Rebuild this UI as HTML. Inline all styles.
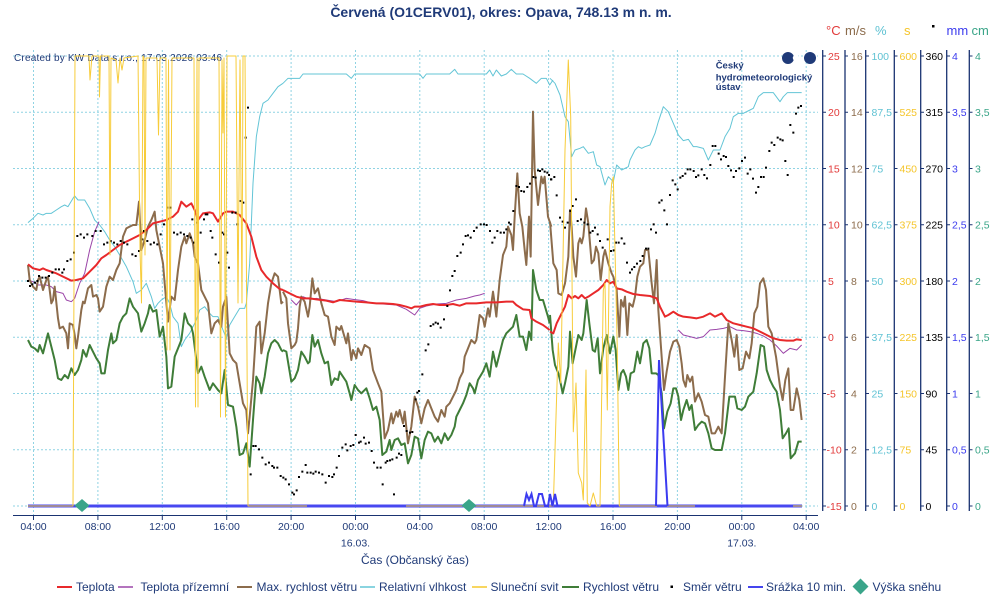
<!DOCTYPE html>
<html><head><meta charset="utf-8"><style>
html,body{margin:0;padding:0;background:#fff;}
svg{display:block;font-family:"Liberation Sans",Arial,sans-serif;}
</style></head><body>
<svg width="1000" height="600" viewBox="0 0 1000 600" xmlns="http://www.w3.org/2000/svg">
<rect width="1000" height="600" fill="#fff"/>
<text x="501" y="17" text-anchor="middle" font-size="14" font-weight="bold" fill="#1f3a78">Červená (O1CERV01), okres: Opava, 748.13 m n. m.</text>
<g stroke="#8fd3e3" stroke-width="1" stroke-dasharray="2,2" fill="none">
<line x1="13" y1="56" x2="818" y2="56"/><line x1="13" y1="112.25" x2="818" y2="112.25"/><line x1="13" y1="168.5" x2="818" y2="168.5"/><line x1="13" y1="224.75" x2="818" y2="224.75"/><line x1="13" y1="281" x2="818" y2="281"/><line x1="13" y1="337.25" x2="818" y2="337.25"/><line x1="13" y1="393.5" x2="818" y2="393.5"/><line x1="13" y1="449.75" x2="818" y2="449.75"/><line x1="13" y1="506" x2="818" y2="506"/>
<line x1="33.5" y1="50" x2="33.5" y2="515"/><line x1="97.9" y1="50" x2="97.9" y2="515"/><line x1="162.3" y1="50" x2="162.3" y2="515"/><line x1="226.7" y1="50" x2="226.7" y2="515"/><line x1="291.1" y1="50" x2="291.1" y2="515"/><line x1="355.5" y1="50" x2="355.5" y2="515"/><line x1="419.8" y1="50" x2="419.8" y2="515"/><line x1="484.2" y1="50" x2="484.2" y2="515"/><line x1="548.6" y1="50" x2="548.6" y2="515"/><line x1="613" y1="50" x2="613" y2="515"/><line x1="677.4" y1="50" x2="677.4" y2="515"/><line x1="741.8" y1="50" x2="741.8" y2="515"/><line x1="806.2" y1="50" x2="806.2" y2="515"/>
</g>
<text x="14" y="61" font-size="10" letter-spacing="0.2" fill="#1f3a78">Created by KW Data s.r.o., 17.03.2026 03:46</text>
<g fill="#1f3a78">
<circle cx="788" cy="58" r="6"/><circle cx="810" cy="58" r="6"/>
<circle cx="796" cy="58" r="3.2" fill="#fff"/>
<text x="715.7" y="68.5" font-size="9.5" font-weight="bold">Český</text>
<text x="715.7" y="80.5" font-size="9.5" font-weight="bold">hydrometeorologický</text>
<text x="715.7" y="90" font-size="9.5" font-weight="bold">ústav</text>
</g>

<line x1="28" y1="506" x2="802" y2="506" stroke="#4848f0" stroke-width="3"/>

<g transform="translate(13,50) scale(0.333333)" fill="none" stroke-linejoin="round">
<polyline vector-effect="non-scaling-stroke" stroke="#63c5d6" stroke-width="1" points="45,518 60,505 75,490 90,495 100,490 115,490 130,480 145,470 155,465 165,470 180,445 185,438 195,450 215,450 230,475 245,510 260,525 275,545 290,570 305,590 320,615 340,650 360,695 370,730 385,720 400,700 415,740 425,775 435,760 445,750 460,740 470,760 480,800 495,820 505,890 515,870 530,850 540,830 550,810 560,780 575,770 590,790 600,800 615,800 630,840 640,865 650,825 665,800 680,775 695,775 700,760 710,640 720,400 730,260 740,200 750,160 765,150 780,130 795,110 810,100"/>
<polyline vector-effect="non-scaling-stroke" stroke="#9b45a8" stroke-width="1" points="45,690 60,695 75,705 100,705 115,710 130,725 150,730 160,750 175,755 185,745 200,700 215,670 230,600 245,545 258,515"/>
<polyline vector-effect="non-scaling-stroke" stroke="#8c6c4c" stroke-width="2" points="45,645 50,690 60,710 70,720 75,690 80,680 90,720 100,690 105,680 110,720 115,760 120,750 125,710 135,805 140,835 150,830 160,850 165,895 170,820 180,825 185,855 190,895 195,860 205,780 210,755 215,760 225,715 235,705 240,740 250,735 255,745 260,785 270,770 280,710 290,680 300,690 310,660 320,640 330,560 340,535 350,530 360,525 370,525 378,455 385,600 395,570 405,530 415,510 425,485 430,540 440,590 450,640 455,700 465,815 475,740 485,750 495,660 505,590 515,560 520,580 530,550 540,580 545,620 555,640 565,720 575,740 585,760 595,850 605,820 615,810 625,830 630,770 640,740 650,910 660,930 670,940 680,1000 690,1060 700,1080 705,1150 710,1100 720,990 730,830 740,815 745,910 755,850 765,760 775,700 785,670 795,680 805,760 810,755"/>
<polyline vector-effect="non-scaling-stroke" stroke="#3f7d38" stroke-width="2" points="45,870 55,890 65,895 75,905 80,885 90,910 100,870 105,850 115,890 125,930 135,985 145,990 155,975 165,985 175,955 185,975 195,960 205,930 210,900 220,920 230,885 240,905 250,925 260,940 265,970 275,970 285,900 295,850 300,880 310,870 320,820 330,800 340,790 350,745 360,770 375,790 385,845 395,820 405,790 410,765 420,785 430,780 440,860 450,830 460,920 465,1015 475,1010 485,920 495,895 505,870 515,790 525,820 535,830 540,850 550,930 555,970 565,950 575,980 590,1020 600,1000 615,1020 625,1030 635,960 645,1065 660,1070 670,1130 680,1215 690,1210 700,1180 710,1250 720,1110 730,980 740,1000 745,1030 755,980 765,910 775,880 785,870 795,880 805,900 810,905"/>
<polyline vector-effect="non-scaling-stroke" stroke="#e8292b" stroke-width="2" points="45,643 60,655 80,660 90,655 100,660 130,670 150,680 175,692 190,690 210,685 230,665 250,645 265,625 280,615 300,600 320,585 340,575 360,565 380,555 400,540 420,520 440,515 460,510 480,500 495,485 505,455 520,470 535,460 545,480 555,510 570,490 590,487 600,490 615,515 630,490 640,485 660,485 680,495 700,520 715,560 730,620 745,660 760,680 780,700 800,717 810,720"/>
<path fill="#000" d="M42 690h6v6h-6zM48 705h6v6h-6zM55 700h6v6h-6zM63 695h6v6h-6zM70 690h6v6h-6zM75 675h6v6h-6zM85 680h6v6h-6zM95 680h6v6h-6zM105 675h6v6h-6zM115 665h6v6h-6zM125 655h6v6h-6zM135 655h6v6h-6zM145 665h6v6h-6zM150 655h6v6h-6zM160 630h6v6h-6zM170 625h6v6h-6zM180 605h6v6h-6zM190 555h6v6h-6zM200 550h6v6h-6zM210 560h6v6h-6zM220 550h6v6h-6zM235 555h6v6h-6zM245 540h6v6h-6zM260 540h6v6h-6zM270 580h6v6h-6zM280 575h6v6h-6zM290 570h6v6h-6zM300 575h6v6h-6zM310 580h6v6h-6zM320 570h6v6h-6zM330 575h6v6h-6zM340 580h6v6h-6zM355 610h6v6h-6zM365 615h6v6h-6zM375 600h6v6h-6zM385 565h6v6h-6zM390 540h6v6h-6zM400 570h6v6h-6zM410 580h6v6h-6zM420 575h6v6h-6zM430 580h6v6h-6zM440 550h6v6h-6zM450 520h6v6h-6zM460 470h6v6h-6zM470 470h6v6h-6zM480 545h6v6h-6zM490 550h6v6h-6zM500 545h6v6h-6zM510 550h6v6h-6zM520 555h6v6h-6zM530 560h6v6h-6zM535 505h6v6h-6zM540 575h6v6h-6zM550 515h6v6h-6zM560 545h6v6h-6zM570 505h6v6h-6zM575 490h6v6h-6zM580 490h6v6h-6zM590 540h6v6h-6zM595 560h6v6h-6zM605 610h6v6h-6zM615 635h6v6h-6zM625 545h6v6h-6zM630 550h6v6h-6zM640 605h6v6h-6zM645 650h6v6h-6zM655 485h6v6h-6zM665 485h6v6h-6zM670 520h6v6h-6zM680 450h6v6h-6zM688 455h6v6h-6zM695 260h6v6h-6zM702 170h6v6h-6zM710 1270h6v6h-6zM718 1185h6v6h-6zM725 1185h6v6h-6zM735 1195h6v6h-6zM745 1220h6v6h-6zM755 1240h6v6h-6zM765 1235h6v6h-6zM775 1245h6v6h-6zM780 1250h6v6h-6zM790 1250h6v6h-6zM800 1275h6v6h-6zM808 1280h6v6h-6z"/>
</g>

<g transform="translate(283,50) scale(0.333333)" fill="none" stroke-linejoin="round">
<polyline vector-effect="non-scaling-stroke" stroke="#63c5d6" stroke-width="1" points="0,100 15,85 50,85 60,72 190,72 205,85 215,72 410,72 420,85 430,72 500,72 515,58 525,72 610,72 620,60 630,78 640,60 655,78 670,72 685,58 700,72 720,72 740,85 760,100 775,85 790,85 800,105 810,90"/>
<polyline vector-effect="non-scaling-stroke" stroke="#9b45a8" stroke-width="1" points="25,750 40,765 60,740 80,748 100,745 130,750 160,755 190,745 210,748 240,752 270,760 300,762 340,765 370,778 395,795 410,775 430,768 460,762 490,760 520,750 550,745 575,738 590,735 605,730"/>
<polyline vector-effect="non-scaling-stroke" stroke="#8c6c4c" stroke-width="2" points="0,725 10,745 15,820 25,895 35,885 40,875 45,835 50,770 55,740 65,755 75,800 80,770 88,685 95,730 105,715 115,760 125,795 135,800 145,860 155,885 160,830 170,840 175,828 180,845 190,880 195,850 205,930 210,900 220,925 225,895 235,915 245,885 260,895 270,960 285,1000 295,1025 305,1165 315,1140 325,1090 330,1120 340,1085 345,1100 350,1080 360,1120 365,1085 375,1180 385,1130 395,1040 405,1070 415,1120 425,1075 435,1050 445,1075 455,1100 465,1115 475,1080 485,1100 490,1070 500,1060 510,1040 520,1020 530,985 540,965 545,920 555,895 565,870 575,880 580,870 590,795 600,805 605,830 615,775 620,800 630,725 635,760 640,800 650,690 660,615 670,590 675,530 685,555 690,600 695,500 703,370 710,490 718,530 725,600 730,645 738,500 743,620 750,185 755,360 765,465 775,380 780,400 785,380 795,500 805,530"/>
<polyline vector-effect="non-scaling-stroke" stroke="#3f7d38" stroke-width="2" points="0,900 10,905 20,965 25,995 35,985 45,960 55,905 65,920 75,940 80,935 88,855 95,890 105,870 115,910 125,940 135,935 145,1005 155,985 165,990 170,965 180,980 190,995 200,1030 205,1050 215,1005 225,1020 235,1030 250,1015 260,1045 270,1080 280,1070 290,1110 298,1215 310,1205 320,1170 325,1200 335,1170 345,1165 355,1185 365,1180 375,1240 385,1215 395,1160 405,1165 415,1225 425,1170 435,1145 445,1150 455,1175 465,1160 475,1180 485,1150 495,1170 505,1155 515,1130 520,1100 530,1080 540,1060 550,1035 560,1000 570,1015 575,1030 585,990 600,965 610,940 620,980 630,905 640,950 650,910 660,870 670,850 680,840 690,830 700,795 710,860 720,860 730,900 738,845 745,870 750,660 760,720 770,750 780,750 795,800 800,820"/>
<polyline vector-effect="non-scaling-stroke" stroke="#e8292b" stroke-width="2" points="0,720 20,730 40,740 60,745 80,745 100,748 130,752 150,757 170,750 190,752 220,755 250,757 280,760 300,760 330,762 350,765 370,770 385,775 395,770 410,770 430,765 450,762 470,765 490,765 510,762 530,767 550,760 580,760 610,757 640,757 670,755 690,755 700,765 720,778 740,780 745,805 760,815 780,825 800,840"/>
<path fill="#000" d="M5 1285h6v6h-6zM15 1300h6v6h-6zM25 1325h6v6h-6zM30 1330h6v6h-6zM38 1318h6v6h-6zM45 1278h6v6h-6zM55 1262h6v6h-6zM65 1242h6v6h-6zM70 1265h6v6h-6zM80 1265h6v6h-6zM88 1268h6v6h-6zM95 1262h6v6h-6zM105 1265h6v6h-6zM115 1270h6v6h-6zM125 1295h6v6h-6zM135 1275h6v6h-6zM145 1278h6v6h-6zM150 1270h6v6h-6zM158 1250h6v6h-6zM165 1215h6v6h-6zM175 1190h6v6h-6zM185 1180h6v6h-6zM190 1198h6v6h-6zM200 1185h6v6h-6zM208 1182h6v6h-6zM215 1152h6v6h-6zM225 1175h6v6h-6zM230 1172h6v6h-6zM240 1160h6v6h-6zM245 1178h6v6h-6zM255 1175h6v6h-6zM263 1200h6v6h-6zM270 1235h6v6h-6zM280 1250h6v6h-6zM290 1250h6v6h-6zM296 1300h6v6h-6zM305 1235h6v6h-6zM310 1230h6v6h-6zM318 1228h6v6h-6zM325 1225h6v6h-6zM330 1330h6v6h-6zM338 1220h6v6h-6zM345 1208h6v6h-6zM352 1212h6v6h-6zM360 1125h6v6h-6zM368 1140h6v6h-6zM378 1145h6v6h-6zM385 1143h6v6h-6zM395 1045h6v6h-6zM400 1025h6v6h-6zM405 1020h6v6h-6zM415 970h6v6h-6zM425 898h6v6h-6zM433 880h6v6h-6zM440 825h6v6h-6zM448 820h6v6h-6zM455 815h6v6h-6zM462 818h6v6h-6zM470 830h6v6h-6zM480 805h6v6h-6zM490 765h6v6h-6zM498 718h6v6h-6zM505 675h6v6h-6zM512 660h6v6h-6zM520 615h6v6h-6zM530 605h6v6h-6zM537 580h6v6h-6zM545 555h6v6h-6zM552 553h6v6h-6zM560 560h6v6h-6zM570 540h6v6h-6zM578 530h6v6h-6zM590 520h6v6h-6zM600 520h6v6h-6zM608 522h6v6h-6zM618 540h6v6h-6zM625 575h6v6h-6zM632 560h6v6h-6zM640 540h6v6h-6zM650 545h6v6h-6zM660 545h6v6h-6zM667 535h6v6h-6zM675 515h6v6h-6zM680 520h6v6h-6zM688 480h6v6h-6zM697 405h6v6h-6zM705 408h6v6h-6zM712 420h6v6h-6zM720 422h6v6h-6zM730 408h6v6h-6zM738 398h6v6h-6zM748 378h6v6h-6zM755 380h6v6h-6zM762 358h6v6h-6zM768 360h6v6h-6zM775 355h6v6h-6zM782 362h6v6h-6zM790 365h6v6h-6zM795 372h6v6h-6zM802 385h6v6h-6z"/>
</g>

<g transform="translate(550,50) scale(0.333333)" fill="none" stroke-linejoin="round">
<polyline vector-effect="non-scaling-stroke" stroke="#63c5d6" stroke-width="1" points="0,85 15,100 30,135 45,200 55,215 65,320 75,300 90,295 100,290 115,310 130,305 140,345 150,350 165,405 175,380 190,395 200,345 215,360 235,350 240,330 255,300 265,290 275,295 285,290 300,285 315,250 325,215 340,170 355,185 370,220 385,255 400,272 415,268 430,290 440,290 460,295 475,330 490,300 510,300 525,260 540,235 550,200 565,190 580,190 600,180 610,175 625,140 640,128 670,128 690,155 700,140 712,128 755,128"/>
<polyline vector-effect="non-scaling-stroke" stroke="#9b45a8" stroke-width="1" points="385,840 400,855 420,860 440,865 460,860 480,840 500,838 520,835 540,830 560,840 580,842 600,845 620,850 640,858 660,870 680,888 700,910 720,895 740,900 755,885"/>
<polyline vector-effect="non-scaling-stroke" stroke="#8c6c4c" stroke-width="2" points="0,515 10,640 20,660 25,730 35,735 45,700 55,620 60,480 65,530 70,620 78,680 85,580 90,565 95,580 100,560 108,475 115,520 125,640 132,630 138,590 145,610 152,690 160,620 165,600 175,640 185,670 190,680 200,720 208,860 213,750 220,770 225,740 232,855 238,760 248,770 255,740 262,680 270,650 280,640 285,600 295,600 305,700 312,760 320,630 325,780 335,920 342,1020 350,965 360,905 370,875 380,870 388,890 395,940 400,990 407,1010 412,975 420,995 427,980 435,1055 445,1030 455,1055 465,1095 475,1100 485,1150 495,1150 505,1130 515,1150 525,980 535,820 545,870 553,920 560,855 568,960 578,955 588,905 598,925 605,880 613,790 622,770 630,700 640,685 648,720 655,830 665,850 678,920 690,1010 698,1050 706,990 715,955 722,1080 730,1080 740,1015 748,1050 755,1110"/>
<polyline vector-effect="non-scaling-stroke" stroke="#3f7d38" stroke-width="2" points="0,795 8,900 15,945 25,970 30,990 38,1030 45,1000 55,950 60,845 68,940 78,890 85,855 95,870 100,850 110,750 118,820 128,900 135,905 143,865 150,970 160,895 170,855 180,910 190,860 197,900 205,1020 213,970 220,960 228,980 235,1020 242,970 252,965 262,905 270,940 280,880 290,870 298,895 305,970 318,970 325,975 335,1030 342,1135 352,1085 362,1060 370,1015 378,1015 385,1040 393,1110 400,1080 410,1050 418,1080 425,1065 435,1140 445,1125 455,1115 465,1120 475,1150 485,1195 495,1200 515,1200 525,1150 538,1040 555,1040 562,1075 575,1080 585,1070 595,1040 610,1025 620,970 632,885 642,890 650,960 660,990 670,1010 680,1025 690,1080 698,1165 708,1150 716,1135 722,1225 735,1210 745,1175 755,1175"/>
<polyline vector-effect="non-scaling-stroke" stroke="#e8292b" stroke-width="2" points="0,845 10,850 20,820 35,790 45,770 55,735 65,745 75,738 85,745 95,735 105,745 115,740 130,730 145,720 160,705 170,690 180,700 190,695 200,715 215,718 230,725 250,732 270,735 300,738 320,745 330,770 345,800 355,795 370,785 385,795 400,800 420,802 440,805 460,800 480,790 495,800 515,790 530,810 550,820 570,825 590,830 610,835 630,845 650,855 670,865 690,870 710,872 730,872 740,868 755,870"/>
<path fill="#000" d="M0 385h6v6h-6zM10 378h6v6h-6zM17 433h6v6h-6zM27 500h6v6h-6zM35 512h6v6h-6zM42 530h6v6h-6zM50 515h6v6h-6zM58 480h6v6h-6zM65 465h6v6h-6zM75 445h6v6h-6zM80 510h6v6h-6zM90 505h6v6h-6zM100 515h6v6h-6zM110 520h6v6h-6zM118 545h6v6h-6zM125 540h6v6h-6zM132 530h6v6h-6zM140 550h6v6h-6zM147 570h6v6h-6zM155 590h6v6h-6zM170 565h6v6h-6zM180 600h6v6h-6zM188 598h6v6h-6zM195 575h6v6h-6zM203 575h6v6h-6zM212 562h6v6h-6zM220 578h6v6h-6zM228 635h6v6h-6zM237 665h6v6h-6zM243 655h6v6h-6zM250 648h6v6h-6zM258 638h6v6h-6zM268 630h6v6h-6zM275 615h6v6h-6zM285 593h6v6h-6zM292 593h6v6h-6zM300 535h6v6h-6zM308 520h6v6h-6zM315 545h6v6h-6zM325 455h6v6h-6zM332 448h6v6h-6zM340 478h6v6h-6zM348 520h6v6h-6zM357 432h6v6h-6zM365 388h6v6h-6zM373 400h6v6h-6zM380 415h6v6h-6zM388 380h6v6h-6zM395 375h6v6h-6zM403 368h6v6h-6zM410 355h6v6h-6zM418 355h6v6h-6zM428 360h6v6h-6zM435 378h6v6h-6zM442 373h6v6h-6zM452 355h6v6h-6zM460 372h6v6h-6zM468 382h6v6h-6zM478 342h6v6h-6zM485 285h6v6h-6zM493 285h6v6h-6zM503 308h6v6h-6zM510 325h6v6h-6zM518 315h6v6h-6zM525 318h6v6h-6zM532 345h6v6h-6zM540 358h6v6h-6zM548 378h6v6h-6zM555 360h6v6h-6zM565 352h6v6h-6zM573 330h6v6h-6zM582 320h6v6h-6zM590 368h6v6h-6zM598 355h6v6h-6zM606 383h6v6h-6zM615 425h6v6h-6zM622 408h6v6h-6zM630 378h6v6h-6zM638 378h6v6h-6zM645 350h6v6h-6zM655 300h6v6h-6zM662 275h6v6h-6zM670 282h6v6h-6zM680 260h6v6h-6zM688 265h6v6h-6zM695 268h6v6h-6zM703 330h6v6h-6zM710 372h6v6h-6zM718 222h6v6h-6zM727 245h6v6h-6zM735 188h6v6h-6zM742 170h6v6h-6zM750 165h6v6h-6z"/>
</g>

<g fill="none" stroke="#f7cc3a" stroke-width="1" stroke-linejoin="round">
<polyline points="28,506 73,506 75,56 89,56 90,80 92,56 99,56 99.5,97 100.5,56 109,56 110,255 111,58 116,60 118,83 120,58 122,70 124,58 138,56 140,250 141.5,303 143,56 144,58 145,255 146,58 157,58 158.5,135 160,58 166,58 167,350 168.5,60 170,350 172,58 194,58 195.5,407 197,58 198,407 199,58 219,58 220.5,417 222,60 223,133 224,58 225.5,417 227,56 236,56 238,303 240,60 242,303 243,56 245,56 248,506 307,506"/>
<polyline points="406,506 553.3,506 556,416.7 558.3,343 560.7,383 565,150 568.3,60 570.7,116.7 573.3,431.7 576,383 578.3,473 581.7,483 583.3,500 586,370 587.3,503 590,506 593.3,493 596.7,506 600,506 603.3,290 605,283 607.3,410 610,206.7 611.7,183 613.3,176.7 615,250 617.3,350 619.3,506 657,506"/>
<polyline points="667,506 695,506"/>
<polyline points="793,506 802,506"/>
</g>
<g fill="none" stroke="#3b3bf0" stroke-linejoin="miter">
<polyline stroke-width="2" points="524,506 526.5,494 529,500 531.5,494 534,506 536,506 539,494 542,494 545,506 548,506 550,494 552.5,506 555,494 557.5,506"/>
<polyline stroke-width="2" points="656,506 659,360 667.5,506"/>
</g>
<g fill="#3aa58a">
<polygon points="82,499 89.5,505.5 82,512 74.5,505.5"/>
<polygon points="469,499 476.5,505.5 469,512 461.5,505.5"/>
</g>

<g stroke="#1a3371" stroke-width="1">
<line x1="13" y1="515.5" x2="818" y2="515.5"/>
<line x1="33.5" y1="515" x2="33.5" y2="520"/><line x1="97.9" y1="515" x2="97.9" y2="520"/><line x1="162.3" y1="515" x2="162.3" y2="520"/><line x1="226.7" y1="515" x2="226.7" y2="520"/><line x1="291.1" y1="515" x2="291.1" y2="520"/><line x1="355.5" y1="515" x2="355.5" y2="520"/><line x1="419.8" y1="515" x2="419.8" y2="520"/><line x1="484.2" y1="515" x2="484.2" y2="520"/><line x1="548.6" y1="515" x2="548.6" y2="520"/><line x1="613" y1="515" x2="613" y2="520"/><line x1="677.4" y1="515" x2="677.4" y2="520"/><line x1="741.8" y1="515" x2="741.8" y2="520"/><line x1="806.2" y1="515" x2="806.2" y2="520"/>
</g>
<g font-size="10.5" fill="#1f3a78" text-anchor="middle">
<text x="33.5" y="530">04:00</text><text x="97.9" y="530">08:00</text><text x="162.3" y="530">12:00</text><text x="226.7" y="530">16:00</text><text x="291.1" y="530">20:00</text><text x="355.5" y="530">00:00</text><text x="419.8" y="530">04:00</text><text x="484.2" y="530">08:00</text><text x="548.6" y="530">12:00</text><text x="613" y="530">16:00</text><text x="677.4" y="530">20:00</text><text x="741.8" y="530">00:00</text><text x="806.2" y="530">04:00</text>
<text x="355.5" y="546.5">16.03.</text><text x="741.8" y="546.5">17.03.</text>
<text x="415" y="564" font-size="12">Čas (Občanský čas)</text>
</g>

<g stroke="#1a3371" stroke-width="1.3">
<line x1="822.7" y1="50" x2="822.7" y2="511"/><line x1="845" y1="50" x2="845" y2="511"/><line x1="865.7" y1="50" x2="865.7" y2="511"/><line x1="894.3" y1="50" x2="894.3" y2="511"/><line x1="920.7" y1="50" x2="920.7" y2="511"/><line x1="946.7" y1="50" x2="946.7" y2="511"/><line x1="969.3" y1="50" x2="969.3" y2="511"/>
</g>
<g stroke="#1a3371" stroke-width="1">
<path d="M823 56h3M823 112.25h3M823 168.5h3M823 224.75h3M823 281h3M823 337.25h3M823 393.5h3M823 449.75h3M823 506h3"/>
<path d="M845 56h3M845 112.25h3M845 168.5h3M845 224.75h3M845 281h3M845 337.25h3M845 393.5h3M845 449.75h3M845 506h3"/>
<path d="M866 56h3M866 112.25h3M866 168.5h3M866 224.75h3M866 281h3M866 337.25h3M866 393.5h3M866 449.75h3M866 506h3"/>
<path d="M894.5 56h3M894.5 112.25h3M894.5 168.5h3M894.5 224.75h3M894.5 281h3M894.5 337.25h3M894.5 393.5h3M894.5 449.75h3M894.5 506h3"/>
<path d="M921 56h3M921 112.25h3M921 168.5h3M921 224.75h3M921 281h3M921 337.25h3M921 393.5h3M921 449.75h3M921 506h3"/>
<path d="M947 56h3M947 112.25h3M947 168.5h3M947 224.75h3M947 281h3M947 337.25h3M947 393.5h3M947 449.75h3M947 506h3"/>
<path d="M969.5 56h3M969.5 112.25h3M969.5 168.5h3M969.5 224.75h3M969.5 281h3M969.5 337.25h3M969.5 393.5h3M969.5 449.75h3M969.5 506h3"/>
</g>
<g font-size="10.5">
<g fill="#e23a3a"><text x="828" y="60">25</text><text x="828" y="116">20</text><text x="828" y="172.3">15</text><text x="828" y="228.5">10</text><text x="828" y="284.8">5</text><text x="828" y="341">0</text><text x="826.5" y="397.3">-5</text><text x="826.5" y="453.5">-10</text><text x="826.5" y="509.8">-15</text></g>
<g fill="#8c6c4c"><text x="851" y="60">16</text><text x="851" y="116">14</text><text x="851" y="172.3">12</text><text x="851" y="228.5">10</text><text x="851" y="284.8">8</text><text x="851" y="341">6</text><text x="851" y="397.3">4</text><text x="851" y="453.5">2</text><text x="851" y="509.8">0</text></g>
<g fill="#5fc2d3"><text x="871.5" y="60">100</text><text x="871.5" y="116">87,5</text><text x="871.5" y="172.3">75</text><text x="871.5" y="228.5">62,5</text><text x="871.5" y="284.8">50</text><text x="871.5" y="341">37,5</text><text x="871.5" y="397.3">25</text><text x="871.5" y="453.5">12,5</text><text x="871.5" y="509.8">0</text></g>
<g fill="#f5c52a"><text x="899.5" y="60">600</text><text x="899.5" y="116">525</text><text x="899.5" y="172.3">450</text><text x="899.5" y="228.5">375</text><text x="899.5" y="284.8">300</text><text x="899.5" y="341">225</text><text x="899.5" y="397.3">150</text><text x="899.5" y="453.5">75</text><text x="899.5" y="509.8">0</text></g>
<g fill="#000"><text x="925.5" y="60">360</text><text x="925.5" y="116">315</text><text x="925.5" y="172.3">270</text><text x="925.5" y="228.5">225</text><text x="925.5" y="284.8">180</text><text x="925.5" y="341">135</text><text x="925.5" y="397.3">90</text><text x="925.5" y="453.5">45</text><text x="925.5" y="509.8">0</text></g>
<g fill="#3b3bee"><text x="952" y="60">4</text><text x="952" y="116">3,5</text><text x="952" y="172.3">3</text><text x="952" y="228.5">2,5</text><text x="952" y="284.8">2</text><text x="952" y="341">1,5</text><text x="952" y="397.3">1</text><text x="952" y="453.5">0,5</text><text x="952" y="509.8">0</text></g>
<g fill="#3aa588"><text x="975" y="60">4</text><text x="975" y="116">3,5</text><text x="975" y="172.3">3</text><text x="975" y="228.5">2,5</text><text x="975" y="284.8">2</text><text x="975" y="341">1,5</text><text x="975" y="397.3">1</text><text x="975" y="453.5">0,5</text><text x="975" y="509.8">0</text></g>
</g>
<g font-size="13">
<text x="826" y="35" fill="#e23a3a">°C</text>
<text x="845" y="35" fill="#8c6c4c">m/s</text>
<text x="875" y="35" fill="#5fc2d3">%</text>
<text x="904" y="35" fill="#f5c52a">s</text>
<text x="946.5" y="35" fill="#3b3bee">mm</text>
<text x="971.5" y="35" fill="#3aa588">cm</text>
</g>
<rect x="932" y="25" width="2.5" height="2.5" fill="#000"/>

<g stroke-width="2" fill="none">
<line x1="57" y1="587" x2="72" y2="587" stroke="#e8292b"/>
<line x1="118" y1="587" x2="133" y2="587" stroke="#9b45a8" stroke-width="1.5"/>
<line x1="237" y1="587" x2="252" y2="587" stroke="#8c6c4c"/>
<line x1="360" y1="587" x2="375" y2="587" stroke="#63c5d6" stroke-width="1.5"/>
<line x1="472" y1="587" x2="487" y2="587" stroke="#f6c82a" stroke-width="1.5"/>
<line x1="562" y1="587" x2="579" y2="587" stroke="#3f7d38"/>
<line x1="748" y1="587" x2="763" y2="587" stroke="#4545ee"/>
</g>
<rect x="670.5" y="585.5" width="2.5" height="2.5" fill="#000"/>
<polygon points="860.5,578.5 868.5,586.5 860.5,594.5 852.5,586.5" fill="#3aa58a"/>
<g font-size="12" fill="#1f3a78">
<text x="76" y="591">Teplota</text>
<text x="140.5" y="591">Teplota přízemní</text>
<text x="256.5" y="591">Max. rychlost větru</text>
<text x="379" y="591">Relativní vlhkost</text>
<text x="490.5" y="591">Sluneční svit</text>
<text x="583" y="591">Rychlost větru</text>
<text x="683" y="591">Směr větru</text>
<text x="766" y="591">Srážka 10 min.</text>
<text x="872.5" y="591">Výška sněhu</text>
</g>
</svg>
</body></html>
